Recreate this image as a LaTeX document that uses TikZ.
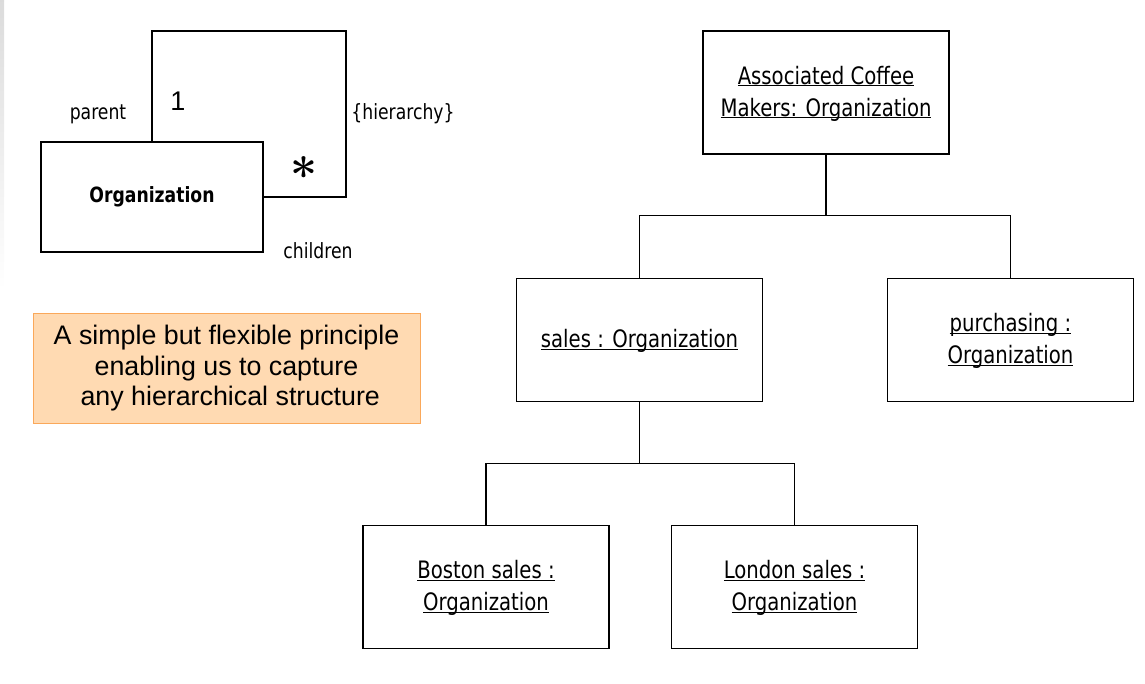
\documentclass[tikz,border=0pt]{standalone}
\usepackage{fontspec}
\usepackage{xcolor}
\definecolor{notefill}{RGB}{255,218,178}
\definecolor{noteline}{RGB}{250,168,90}
\newfontfamily\umlfont[FakeStretch=0.82]{DejaVu Sans}
\newfontfamily\notefont{Liberation Sans}
\newcommand{\objname}[1]{\underline{\smash{#1}}\vphantom{A}}
\usepackage{tikz}
\usetikzlibrary{positioning,calc}

\begin{document}
\begin{tikzpicture}[
    x=1pt, y=-1pt,
    objbox/.style={rectangle, draw, line width=1.7pt, minimum width=246pt, minimum height=123pt, align=center, inner sep=0pt, font=\umlfont\fontsize{24}{32}\selectfont},
    classbox/.style={rectangle, draw, line width=1.7pt, minimum width=222pt, minimum height=110pt, font=\umlfont\bfseries\fontsize{21}{24}\selectfont},
    lbl/.style={inner sep=0pt, anchor=base, font=\umlfont\fontsize{21}{24}\selectfont},
    note/.style={rectangle, draw=noteline, fill=notefill, line width=1pt, minimum width=387pt, minimum height=109pt, align=center, font=\notefont\fontsize{26.8}{30.5}\selectfont},
    link/.style={line width=1.3pt}
]
\useasboundingbox (0,0) rectangle (1145,684);
\shade[top color=black!14, bottom color=white] (0,0) rectangle (4,290);

% Class with its hierarchy association
\node[classbox] (org) at (152,197) {Organization};
\coordinate (loopc) at (346,31);
\draw[link] (org.north) |- (loopc) |- (org.east);
\node[lbl] (parent) at (98,120) {parent};
\node[inner sep=0pt, font=\notefont\fontsize{27}{27}\selectfont] (one) at (178,101.5) {1};
\node[lbl] (hier) at (403,120) {\{hierarchy\}};
\node[inner sep=0pt, anchor=base, font=\rmfamily\bfseries\fontsize{48}{48}\selectfont] (many) at (304,193) {*};
\node[lbl] (children) at (318,259) {children};

% Note
\node[note] (idea) at (226.5,368.5) {A simple but flexible principle\\enabling us to capture\\\ any hierarchical structure};

% Object tree
\node[objbox] (acm) at (826,92.5) {\objname{Associated Coffee}\\\objname{Makers: Organization}};
\node[objbox] (sales) at (639.5,340) {\objname{sales : Organization}};
\node[objbox] (purch) at (1010.5,340) {\objname{purchasing :}\\\objname{Organization}};
\node[objbox] (boston) at (486,587) {\objname{Boston sales :}\\\objname{Organization}};
\node[objbox] (london) at (794.5,587) {\objname{London sales :}\\\objname{Organization}};

% Links
\draw[link] (acm.south) -- ++(0,61) -| (sales.north);
\draw[link] (acm.south) -- ++(0,61) -| (purch.north);
\draw[link] (sales.south) -- ++(0,61) -| (boston.north);
\draw[link] (sales.south) -- ++(0,61) -| (london.north);
\end{tikzpicture}
\end{document}
